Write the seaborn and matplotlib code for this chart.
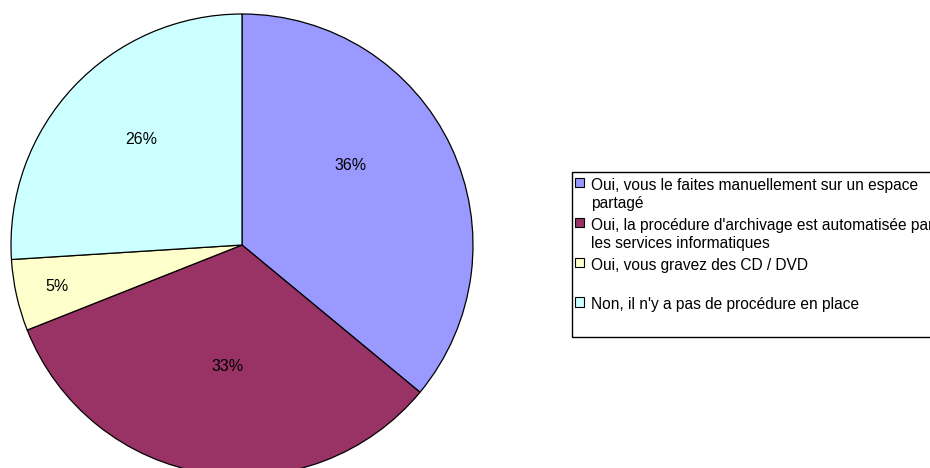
import matplotlib
matplotlib.use("Agg")
import matplotlib.pyplot as plt
from matplotlib.patches import Rectangle
from matplotlib.offsetbox import AnchoredOffsetbox, VPacker, HPacker, DrawingArea, TextArea
import seaborn as sns
import numpy as np

# Données du camembert (sens horaire depuis midi)
categories = [
    "Oui, vous le faites manuellement sur un espace\npartagé",
    "Oui, la procédure d'archivage est automatisée par\nles services informatiques",
    "Oui, vous gravez des CD / DVD",
    "Non, il n'y a pas de procédure en place",
]
percentages = [36, 33, 5, 26]
colors = ["#9999FF", "#993366", "#FFFFCC", "#CCFFFF"]

# placement des étiquettes (distance radiale, décalage angulaire en degrés)
label_dist = [0.58, 0.53, 0.82, 0.63]
label_shift = [11, 2, 0, -3]

sns.set_style("white")
plt.rcParams["font.family"] = ["Liberation Sans", "DejaVu Sans"]
plt.rcParams["text.color"] = "black"

fig = plt.figure(figsize=(9.3, 4.68), dpi=100)
ax = fig.add_axes([11 / 930, (468 - 245 - 231) / 468, 462 / 930, 462 / 468])

wedges, _ = ax.pie(
    percentages,
    colors=colors,
    startangle=90,
    counterclock=False,
    radius=1,
    wedgeprops={"edgecolor": "black", "linewidth": 0.9},
)
ax.set_xlim(-1, 1)
ax.set_ylim(-1, 1)
ax.axis("off")

# Étiquettes de pourcentage
for w, pct, d, s in zip(wedges, percentages, label_dist, label_shift):
    ang = np.deg2rad((w.theta1 + w.theta2) / 2 + s)
    ax.text(d * np.cos(ang), d * np.sin(ang), f"{pct}%",
            ha="center", va="center", fontsize=11.5, color="black")

# Légende façon Excel : une ligne par entrée, carré aligné sur la 1re ligne
row_h = 28.6   # points
sq = 6.6       # points
left_pad = 2.0
rows = [DrawingArea(1, 4.5, 0, 0)]  # marge haute
for c, lab in zip(colors, categories):
    da = DrawingArea(sq + left_pad, row_h, 0, 0)
    da.add_artist(Rectangle((left_pad, row_h - sq), sq, sq, facecolor=c,
                            edgecolor="black", linewidth=0.8))
    ta = TextArea(lab, textprops=dict(fontsize=11.2, linespacing=1.25,
                                      color="black"))
    rows.append(HPacker(children=[da, ta], align="top", pad=0, sep=5))

box = AnchoredOffsetbox(
    loc="upper left",
    child=VPacker(children=rows, align="left", pad=0, sep=0),
    pad=0, borderpad=0, frameon=True,
    bbox_to_anchor=(572 / 930, 1 - 172 / 468),
    bbox_transform=fig.transFigure,
)
box.patch.set_edgecolor("black")
box.patch.set_linewidth(1.0)
fig.add_artist(box)

fig.savefig("out.png", dpi=100)
